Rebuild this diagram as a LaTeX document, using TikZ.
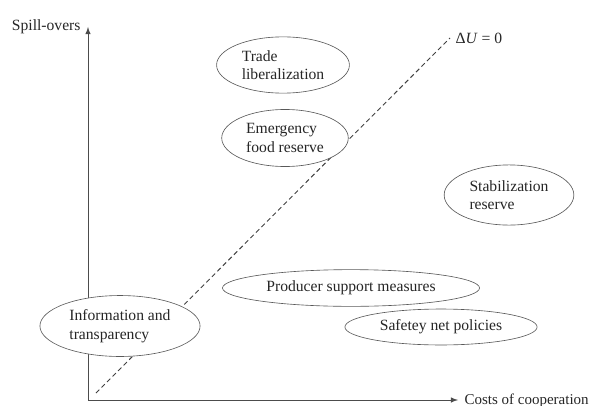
\documentclass[tikz,border=0pt]{standalone}
\usepackage{fontspec}
\setmainfont{Liberation Serif}
\usetikzlibrary{positioning,shapes.geometric}

\begin{document}
\begin{tikzpicture}[x=0.64pt,y=-0.64pt,font=\fontsize{10}{11.8}\selectfont,
	measure/.style={draw=black!65,fill=white,ellipse,inner sep=0pt,align=left,text=black!85},
	axis/.style={draw=black!70,line width=0.6pt,-latex}]
	\useasboundingbox (0,0) rectangle (597,405);
	\coordinate (origin) at (88,400);
	\coordinate (ytip) at (88,27);
	\coordinate (xtip) at (458,400);
	\coordinate (lstart) at (96,393);
	\node[anchor=west,text=black!85](du) at (450,38){Δ\textit{U} = 0};
	\node[anchor=base east,text=black!85](yl) at (86,31){Spill-overs};
	\node[anchor=base west,text=black!85,font=\fontsize{9.6}{11}\selectfont](xl) at (459,404){Costs of cooperation};

	\draw[axis] (origin) -- (ytip);
	\draw[axis] (origin) -- (xtip);
	\draw[black!75,densely dashed,line width=0.6pt] (lstart) -- (du.west);

	\node[measure,minimum width=85pt,minimum height=36pt](trade) at (283,65){Trade\\liberalization};
	\node[measure,minimum width=81pt,minimum height=36.5pt](emergency) at (285,138){Emergency\\food reserve};
	\node[measure,minimum width=83pt,minimum height=38.5pt](stab) at (509,195){Stabilization\\reserve\phantom{tion}};
	\node[measure,minimum width=164.5pt,minimum height=23.5pt](producer) at (351,288){Producer support measures};
	\node[measure,minimum width=123pt,minimum height=23pt](safety) at (441,327){Safetey net policies};
	\node[measure,minimum width=102.5pt,minimum height=39pt](info) at (120,326){Information and\\transparency};
\end{tikzpicture}
\end{document}
